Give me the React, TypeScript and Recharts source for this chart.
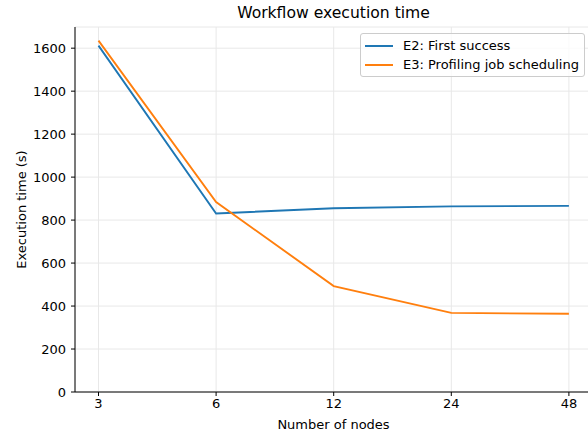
import React from 'react';
import { LineChart, Line, XAxis, YAxis, CartesianGrid } from 'recharts';

const nodes = ['3', '6', '12', '24', '48'];
const e2FirstSuccess = [1612, 831, 855, 864, 866];
const e3ProfilingJobScheduling = [1635, 884, 493, 368, 364];
const yTicks = [0, 200, 400, 600, 800, 1000, 1200, 1400, 1600];

const data = nodes.map((n, i) => ({ n, e2: e2FirstSuccess[i], e3: e3ProfilingJobScheduling[i] }));

const FONT = '"DejaVu Sans", sans-serif';
const BLUE = '#1f77b4';
const ORANGE = '#ff7f0e';
const FS = 13;

const YLabel = () => (
  <text
    x={21}
    y={209.5}
    transform="rotate(-90, 21, 209.5)"
    textAnchor="middle"
    dominantBaseline="central"
    fontSize={FS}
    fontFamily={FONT}
    fill="#000"
  >
    Execution time (s)
  </text>
);

export default function App() {
  return (
    <div style={{ position: 'fixed', left: 0, top: 0, width: 588, height: 431, overflow: 'hidden', background: '#fff', fontFamily: FONT }}>
      <LineChart
        width={600}
        height={431}
        data={data}
        margin={{ top: 27, right: 7.6, bottom: 0, left: 0 }}
      >
        <CartesianGrid stroke="#e8e8e8" strokeWidth={1} />
        <XAxis
          dataKey="n"
          type="category"
          padding={{ left: 23.5, right: 23.5 }}
          height={39}
          tickSize={4}
          tickMargin={3}
          axisLine={{ stroke: '#000', strokeWidth: 1 }}
          tickLine={{ stroke: '#000' }}
          tick={{ fill: '#000', fontSize: FS, fontFamily: FONT }}
          interval={0}
        />
        <XAxis xAxisId="top" dataKey="n" orientation="top" height={0} tick={false} tickLine={false} axisLine={{ stroke: '#000', strokeWidth: 1 }} />
        <YAxis
          domain={[0, 1698.6]}
          ticks={yTicks}
          width={75}
          tickSize={4}
          tickMargin={5}
          axisLine={{ stroke: '#000', strokeWidth: 1 }}
          tickLine={{ stroke: '#000' }}
          tick={{ fill: '#000', fontSize: FS, fontFamily: FONT }}
          label={{ content: () => <YLabel /> }}
          allowDataOverflow
        />
        <YAxis yAxisId="right" orientation="right" width={0} domain={[0, 1698.6]} tick={false} tickLine={false} axisLine={{ stroke: '#000', strokeWidth: 1 }} />
        <Line dataKey="e2" name="E2: First success" stroke={BLUE} strokeWidth={1.9} dot={false} isAnimationActive={false} />
        <Line dataKey="e3" name="E3: Profiling job scheduling" stroke={ORANGE} strokeWidth={1.9} dot={false} isAnimationActive={false} />
      </LineChart>

      <div style={{ position: 'absolute', left: 0, width: 667, top: 4, textAlign: 'center', fontSize: 15.6, color: '#000', lineHeight: '19px' }}>
        Workflow execution time
      </div>
      <div style={{ position: 'absolute', left: 0, width: 667, top: 416.5, textAlign: 'center', fontSize: FS, color: '#000', lineHeight: '16px' }}>
        Number of nodes
      </div>

      <div style={{ position: 'absolute', left: 360, top: 33, width: 225, height: 44, border: '1px solid #cccccc', borderRadius: 3, background: 'rgba(255,255,255,0.8)', boxSizing: 'border-box' }}>
        {[
          { label: 'E2: First success', color: BLUE },
          { label: 'E3: Profiling job scheduling', color: ORANGE },
        ].map((item, i) => (
          <div key={item.label} style={{ position: 'absolute', left: 4, top: 3.5 + i * 19.5, height: 16, display: 'flex', alignItems: 'center', fontSize: FS, color: '#000', whiteSpace: 'nowrap' }}>
            <span style={{ display: 'inline-block', width: 28, height: 2, background: item.color, marginRight: 10 }} />
            <span style={{ lineHeight: '16px' }}>{item.label}</span>
          </div>
        ))}
      </div>
    </div>
  );
}
